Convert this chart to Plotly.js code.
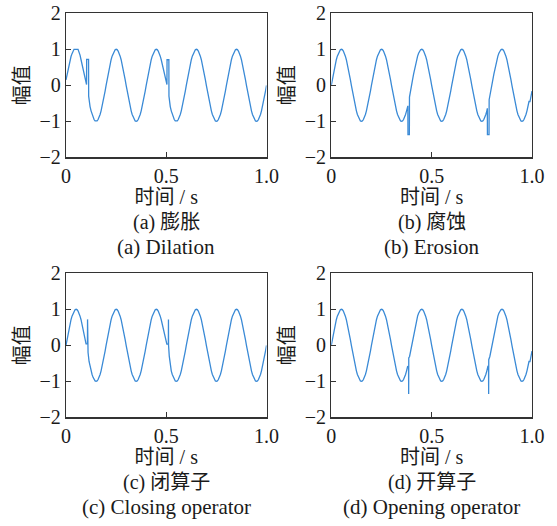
<!DOCTYPE html>
<html><head><meta charset="utf-8">
<script src="https://cdn.plot.ly/plotly-3.0.1.min.js"></script>
<style>html,body{margin:0;padding:0;background:#fff}#chart{width:557px;height:526px}</style>
</head><body><div id="chart"></div>
<script>
// sampling interval of the drawn signal (s)
const sampleStep = 0.005;
// underlying sine (5 cycles in 1 s)
const cleanWave = [
 0, 0.16, 0.31, 0.45, 0.59, 0.71, 0.81, 0.89, 0.95, 0.99, 1, 0.99, 0.95, 0.89, 0.81, 0.71, 0.59, 0.45, 0.31, 0.16,
 0, -0.16, -0.31, -0.45, -0.59, -0.71, -0.81, -0.89, -0.95, -0.99, -1, -0.99, -0.95, -0.89, -0.81, -0.71, -0.59, -0.45, -0.31, -0.16,
 0, 0.16, 0.31, 0.45, 0.59, 0.71, 0.81, 0.89, 0.95, 0.99, 1, 0.99, 0.95, 0.89, 0.81, 0.71, 0.59, 0.45, 0.31, 0.16,
 0, -0.16, -0.31, -0.45, -0.59, -0.71, -0.81, -0.89, -0.95, -0.99, -1, -0.99, -0.95, -0.89, -0.81, -0.71, -0.59, -0.45, -0.31, -0.16,
 0, 0.16, 0.31, 0.45, 0.59, 0.71, 0.81, 0.89, 0.95, 0.99, 1, 0.99, 0.95, 0.89, 0.81, 0.71, 0.59, 0.45, 0.31, 0.16,
 0, -0.16, -0.31, -0.45, -0.59, -0.71, -0.81, -0.89, -0.95, -0.99, -1, -0.99, -0.95, -0.89, -0.81, -0.71, -0.59, -0.45, -0.31, -0.16,
 0, 0.16, 0.31, 0.45, 0.59, 0.71, 0.81, 0.89, 0.95, 0.99, 1, 0.99, 0.95, 0.89, 0.81, 0.71, 0.59, 0.45, 0.31, 0.16,
 0, -0.16, -0.31, -0.45, -0.59, -0.71, -0.81, -0.89, -0.95, -0.99, -1, -0.99, -0.95, -0.89, -0.81, -0.71, -0.59, -0.45, -0.31, -0.16,
 0, 0.16, 0.31, 0.45, 0.59, 0.71, 0.81, 0.89, 0.95, 0.99, 1, 0.99, 0.95, 0.89, 0.81, 0.71, 0.59, 0.45, 0.31, 0.16,
 0, -0.16, -0.31, -0.45, -0.59, -0.71, -0.81, -0.89, -0.95, -0.99, -1, -0.99, -0.95, -0.89, -0.81, -0.71, -0.59, -0.45, -0.31, -0.16,
 0
];

// local segments that differ from the clean sine in each panel (times s, values)
const dilationPatchT = [
  [0, 0.005, 0.01, 0.015, 0.02, 0.025, 0.03, 0.035, 0.04, 0.06, 0.065, 0.07],
  [0.1, 0.1025, 0.103, 0.1125, 0.113, 0.115],
  [0.5, 0.5035, 0.504, 0.513, 0.5135, 0.515]
];
const dilationPatchY = [
  [0.15, 0.3, 0.45, 0.58, 0.7, 0.8, 0.88, 0.95, 1, 1, 0.93, 0.84],
  [0.03, 0.02, 0.72, 0.72, -0.3, -0.45],
  [0.03, 0.02, 0.71, 0.71, -0.3, -0.45]
];
const erosionPatchT = [
  [0.38, 0.3815, 0.382, 0.389, 0.3895, 0.39],
  [0.775, 0.7775, 0.778, 0.786, 0.7865, 0.79],
  [0.99, 0.995, 1.0]
];
const erosionPatchY = [
  [-0.59, -0.57, -1.37, -1.37, -0.33, -0.31],
  [-0.71, -0.64, -1.37, -1.37, -0.4, -0.31],
  [-0.45, -0.31, -0.16]
];
const closingPatchT = [
  [0.1, 0.107, 0.1075, 0.108, 0.11, 0.115],
  [0.5, 0.503, 0.5105, 0.511, 0.5115, 0.515, 0.52]
];
const closingPatchY = [
  [0.04, 0.04, 0.72, 0.02, -0.2, -0.45],
  [0.04, 0.03, 0.03, 0.72, 0.0, -0.3, -0.59]
];
const openingPatchT = [
  [0.38, 0.385, 0.3855, 0.386, 0.39],
  [0.78, 0.7835, 0.784, 0.7845, 0.79],
  [0.99, 0.995, 1.0]
];
const openingPatchY = [
  [-0.59, -0.6, -1.35, -0.35, -0.31],
  [-0.59, -0.6, -1.35, -0.4, -0.31],
  [-0.45, -0.31, -0.16]
];

const xTickVals = [0, 0.5, 1];
const xTickText = ['0', '0.5', '1.0'];
const yTickVals = [-2, -1, 0, 1, 2];
const yTickText = ['\u22122', '\u22121', '0', '1', '2'];
const xTitle = '时间 / s';
const yTitle = '幅值';
const captionsCN = ['(a) 膨胀', '(b) 腐蚀', '(c) 闭算子', '(d) 开算子'];
const captionsEN = ['(a) Dilation', '(b) Erosion', '(c) Closing operator', '(d) Opening operator'];

function buildSeries(patchT, patchY) {
  let pts = cleanWave.map((v, i) => [Math.round(i * sampleStep * 1000) / 1000, v]);
  patchT.forEach((ts, k) => {
    const t0 = ts[0], t1 = ts[ts.length - 1];
    pts = pts.filter(p => p[0] < t0 - 1e-9 || p[0] > t1 + 1e-9);
    ts.forEach((t, j) => pts.push([t, patchY[k][j]]));
  });
  pts.sort((a, b) => a[0] - b[0]);
  return {x: pts.map(p => p[0]), y: pts.map(p => p[1])};
}

const series = [
  buildSeries(dilationPatchT, dilationPatchY),
  buildSeries(erosionPatchT, erosionPatchY),
  buildSeries(closingPatchT, closingPatchY),
  buildSeries(openingPatchT, openingPatchY)
];

const W = 557, H = 526;
const FONT = 'Liberation Serif, Noto Sans CJK SC, serif';
const lineBlue = '#3a8ad6';
const frame = '#333333';
const textCol = '#1a1a1a';

// plot-area pixel boxes [left, right, top, bottom]
const boxes = [
  [66, 266.5, 13.3, 157.3],
  [331.3, 532, 13.3, 157.3],
  [66, 266.5, 273.3, 417.3],
  [331.3, 532, 273.3, 417.3]
];

const data = series.map((s, i) => ({
  type: 'scatter', mode: 'lines', x: s.x, y: s.y,
  xaxis: i === 0 ? 'x' : 'x' + (i + 1),
  yaxis: i === 0 ? 'y' : 'y' + (i + 1),
  line: {color: lineBlue, width: 1.3},
  hoverinfo: 'skip'
}));

const layout = {
  width: W, height: H,
  margin: {l: 0, r: 0, t: 0, b: 0},
  paper_bgcolor: '#fff', plot_bgcolor: '#fff',
  showlegend: false,
  font: {family: FONT, color: textCol, size: 20},
  annotations: []
};

boxes.forEach((b, i) => {
  const xa = i === 0 ? 'xaxis' : 'xaxis' + (i + 1);
  const ya = i === 0 ? 'yaxis' : 'yaxis' + (i + 1);
  const xr = i === 0 ? 'x' : 'x' + (i + 1);
  const yr = i === 0 ? 'y' : 'y' + (i + 1);
  const common = {
    showline: true, mirror: true, linecolor: frame, linewidth: 1.2,
    ticks: 'inside', ticklen: 5, tickwidth: 1.2, tickcolor: frame,
    showgrid: false, zeroline: false, fixedrange: true,
    tickfont: {family: FONT, size: 20, color: textCol}
  };
  layout[xa] = Object.assign({}, common, {
    domain: [b[0] / W, b[1] / W], anchor: yr, range: [0, 1],
    tickmode: 'array', tickvals: xTickVals, ticktext: xTickText,
    title: {text: xTitle, font: {family: FONT, size: 20, color: textCol}, standoff: 2}
  });
  layout[ya] = Object.assign({}, common, {
    domain: [1 - b[3] / H, 1 - b[2] / H], anchor: xr, range: [-2, 2],
    tickmode: 'array', tickvals: yTickVals, ticktext: yTickText,
    title: {text: yTitle, font: {family: FONT, size: 20, color: textCol}, standoff: 4}
  });
  const cx = (b[0] + b[1]) / 2 / W;
  const y1 = b[3] + 65.5, y2 = b[3] + 90;
  layout.annotations.push({xref: 'paper', yref: 'paper', x: cx, y: 1 - y1 / H,
    xanchor: 'center', yanchor: 'middle', showarrow: false, text: captionsCN[i],
    font: {family: FONT, size: 20, color: textCol}});
  layout.annotations.push({xref: 'paper', yref: 'paper', x: cx, y: 1 - y2 / H,
    xanchor: 'center', yanchor: 'middle', showarrow: false, text: captionsEN[i],
    font: {family: FONT, size: 21, color: textCol}});
});

Plotly.newPlot('chart', data, layout, {displayModeBar: false, staticPlot: true});
</script>
</body></html>
